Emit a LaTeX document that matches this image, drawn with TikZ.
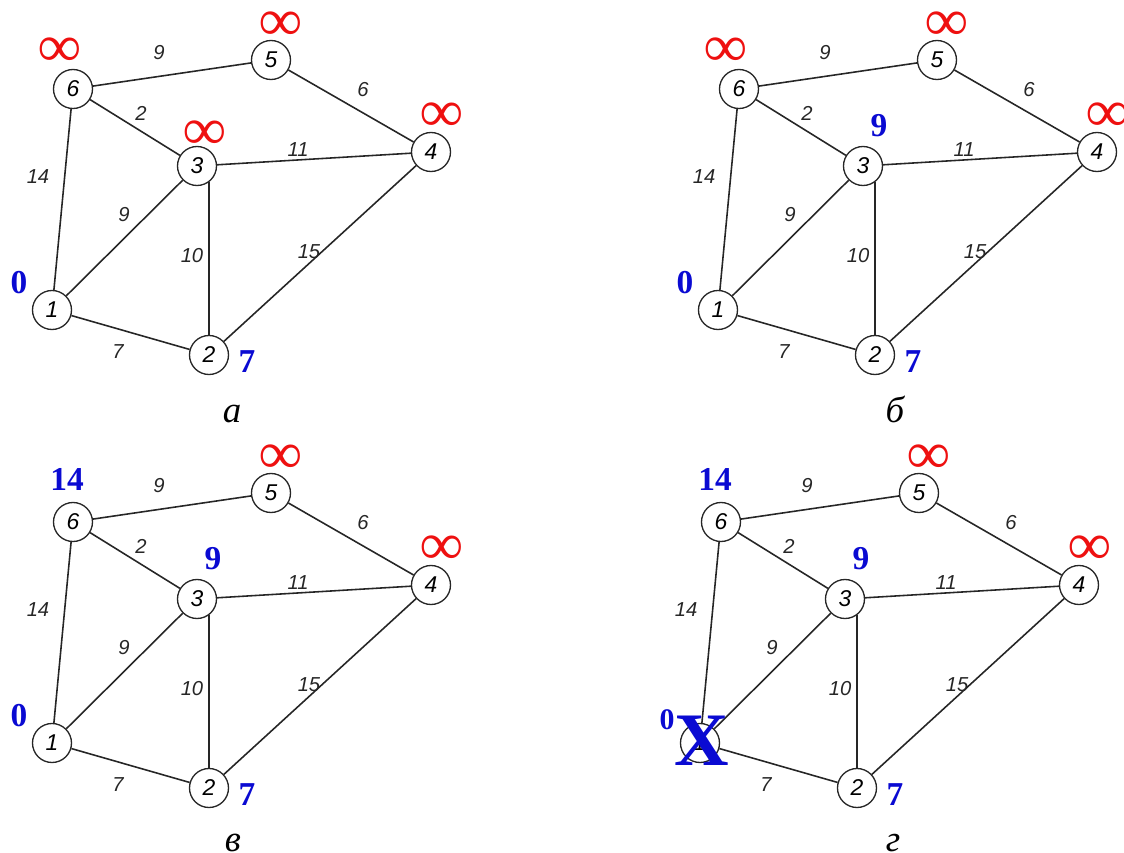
\documentclass[tikz,border=0pt]{standalone}
\usepackage{fontspec}
\setmainfont{Liberation Serif}
\newfontfamily\arial{Liberation Sans}
\usetikzlibrary{calc}
\definecolor{ink}{HTML}{262626}
\definecolor{distblue}{HTML}{0A0AD2}
\definecolor{infred}{HTML}{EE1010}

\begin{document}
\begin{tikzpicture}[line width=.9pt,
  vertex/.style={circle,draw=ink,minimum size=.78cm,inner sep=0pt,
    line width=.75pt,font=\arial\itshape\fontsize{13}{13}\selectfont},
  weight/.style={inner sep=1pt,text=ink,
    font=\arial\itshape\fontsize{11.5}{11.5}\selectfont},
  dist/.style={inner sep=0pt,text=distblue,
    font=\bfseries\fontsize{19}{19}\selectfont},
  inf/.style={inner sep=0pt,text=infred,
    font=\bfseries\fontsize{34}{34}\selectfont},
  panel/.style={anchor=base,font=\itshape\fontsize{21}{21}\selectfont}]
  \useasboundingbox (0,0) rectangle (22.48,-17.06);

  % the same graph in four panels
  \foreach \p/\dx/\dy/\cx/\cy/\lbl in {a/0/0/4.64/-8.44/а,
      b/13.32/0/4.58/-8.44/б,c/0/-8.66/4.66/-8.36/в,
      d/12.96/-8.66/4.90/-8.36/г} {
    \begin{scope}[shift={(\dx,\dy)},name prefix=\p-]
      \node[vertex] (1) at (1.04,-6.20) {1};
      \node[vertex] (2) at (4.18,-7.10) {2};
      \node[vertex] (3) at (3.94,-3.32) {3};
      \node[vertex] (4) at (8.62,-3.04) {4};
      \node[vertex] (5) at (5.42,-1.20) {5};
      \node[vertex] (6) at (1.46,-1.78) {6};

      \draw[ink] (6)--(5) (5)--(4) (6)--(3) (3)--(4) (6)--(1)
        (1)--(3) (2)--(3.-52 -| 2) (2)--(4) (1)--(2);

      \node[weight] (w65) at (3.18,-1.06) {9};
      \node[weight] (w54) at (7.26,-1.80) {6};
      \node[weight] (w63) at (2.82,-2.26) {2};
      \node[weight] (w34) at (5.96,-3.00) {11};
      \node[weight] (w61) at (0.76,-3.54) {14};
      \node[weight] (w13) at (2.48,-4.30) {9};
      \node[weight] (w32) at (3.84,-5.12) {10};
      \node[weight] (w24) at (6.18,-5.04) {15};
      \node[weight] (w12) at (2.36,-7.04) {7};

      \node[panel] (cap) at (\cx,\cy) {\lbl};
    \end{scope}
  }

  % distance marks
  \foreach \p in {a,b,c,d} {
    \node[inf] (\p-i5) at ($(\p-5)+(0.20,0.68)$) {∞};
    \node[inf] (\p-i4) at ($(\p-4)+(0.22,0.70)$) {∞};
    \node[dist] (\p-d2) at ($(\p-2)+(0.76,-0.14)$) {7};
  }
  \foreach \p in {a,b}
    \node[inf] (\p-i6) at ($(\p-6)+(-0.26,0.74)$) {∞};
  \node[inf] (a-i3) at ($(a-3)+(0.16,0.62)$) {∞};
  \foreach \p in {b,c,d}
    \node[dist] (\p-d3) at ($(\p-3)+(0.32,0.80)$) {9};
  \foreach \p in {c,d}
    \node[dist] (\p-d6) at ($(\p-6)+(-0.12,0.86)$) {14};
  \foreach \p in {a,b,c}
    \node[dist] (\p-d1) at ($(\p-1)+(-0.66,0.54)$) {0};

  % vertex 1 crossed out
  \node[dist,font=\bfseries\fontsize{17}{17}\selectfont] (d-d1)
    at ($(d-1)+(-0.66,0.46)$) {0};
  \node[dist,font=\bfseries\fontsize{43}{43}\selectfont] (d-x)
    at ($(d-1)+(0.04,0.04)$) {X};
\end{tikzpicture}
\end{document}
